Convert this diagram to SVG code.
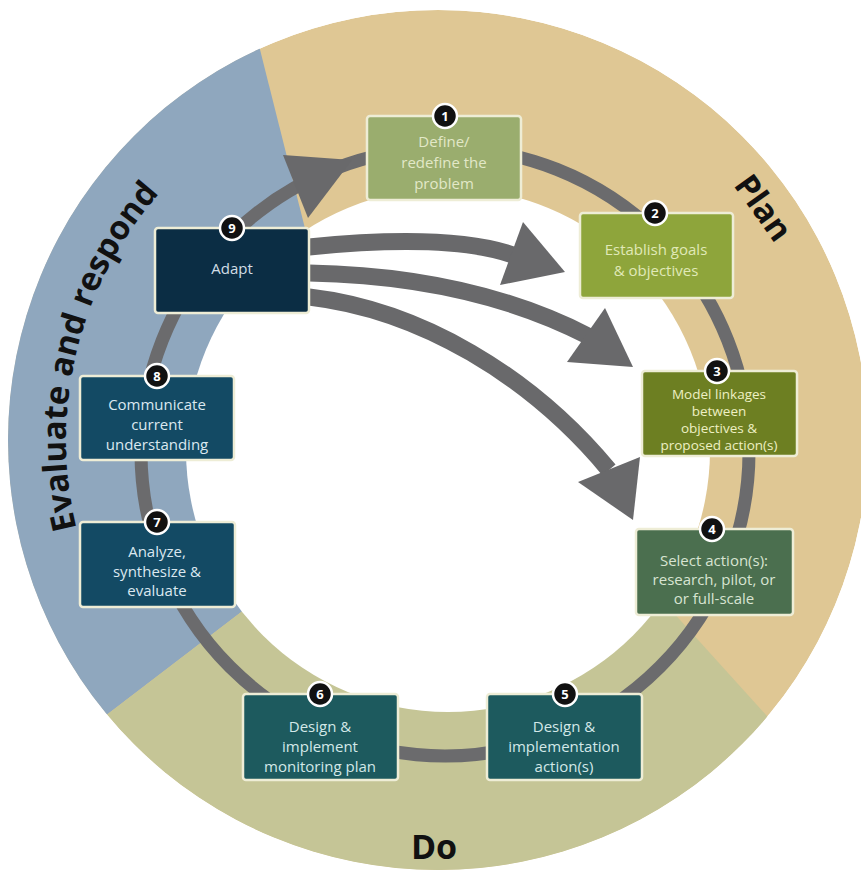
<svg xmlns="http://www.w3.org/2000/svg" width="861" height="870" viewBox="0 0 861 870">
<style>
.box{stroke:#eeedd6;stroke-width:2.5}
.t{font-family:"Open Sans","Liberation Sans",sans-serif;font-size:15px;text-anchor:middle}
.t3{font-size:13.5px}
.badge circle{fill:#111;stroke:#fff;stroke-width:2.5}
.badge text{font-family:"Open Sans","Liberation Sans",sans-serif;font-size:13px;font-weight:bold;fill:#fff;text-anchor:middle}
.big{font-family:"Open Sans","Liberation Sans",sans-serif;font-weight:bold;fill:#111}
.ev{font-size:33px}
.shaft{fill:none;stroke:#69696b;stroke-width:17}
.head{fill:#69696b}
</style>
<defs>
<clipPath id="outer"><circle cx="438" cy="440" r="430"/></clipPath>
<path id="arcEval" d="M78.7,536.3 A372,372 0 0 1 310.8,90.4"/>
</defs>
<rect width="861" height="870" fill="#fff"/>
<g id="ring" clip-path="url(#outer)">
<circle cx="438" cy="440" r="430" fill="#dfc794"/>
<polygon points="245,-10 323,300 300,567 -10,804 -10,-10" fill="#8fa7be"/>
<polygon points="300,567 -10,804 -10,880 880,880 880,841 596,527" fill="#c5c596"/>
</g>
<circle id="inner" cx="448" cy="450" r="262" fill="#fff"/>
<g id="labels">
<text class="big ev"><textPath href="#arcEval" startOffset="8">Evaluate</textPath></text>
<text class="big ev"><textPath href="#arcEval" startOffset="160">and</textPath></text>
<text class="big ev"><textPath href="#arcEval" startOffset="232">respond</textPath></text>
<text class="big" font-size="33" text-anchor="middle" transform="translate(763,208) rotate(54.5)" dy="11">Plan</text>
<text class="big" font-size="34" text-anchor="middle" x="434" y="859">Do</text>
</g>
<g id="connectors">
<circle cx="445" cy="452" r="304" fill="none" stroke="#6b6b6d" stroke-width="13"/>
<polygon class="head" points="283,155 352,160 308,218"/>
<path class="shaft" d="M309,247 Q449,233 513,255"/>
<polygon class="head" points="523,222 565,272 500,285"/>
<path class="shaft" d="M309,273 Q471,276 588,336"/>
<polygon class="head" points="605,308 633,367 567,362"/>
<path class="shaft" d="M309,297 C420,310 530,375 609,470"/>
<polygon class="head" points="640,457 633,520 578,482"/>
</g>
<g id="n1">
<rect class="box" x="367" y="116" width="154" height="84" rx="3" fill="#9aad6e"/>
<text class="t" fill="#e2e8c8"><tspan x="444" y="147">Define/</tspan><tspan x="444" y="168">redefine the</tspan><tspan x="444" y="189">problem</tspan></text>
<g class="badge"><circle cx="445" cy="116" r="12"/><text x="445" y="121">1</text></g>
</g>
<g id="n2">
<rect class="box" x="580" y="213" width="153" height="85" rx="3" fill="#8ea53b"/>
<text class="t" fill="#e0e9b8"><tspan x="656" y="255">Establish goals</tspan><tspan x="656" y="276">&amp; objectives</tspan></text>
<g class="badge"><circle cx="655" cy="213" r="12"/><text x="655" y="218">2</text></g>
</g>
<g id="n3">
<rect class="box" x="642" y="371" width="155" height="85" rx="3" fill="#6d7f22"/>
<text class="t t3" fill="#eef0c4"><tspan x="719" y="399">Model linkages</tspan><tspan x="719" y="416">between</tspan><tspan x="719" y="433">objectives &amp;</tspan><tspan x="719" y="450">proposed action(s)</tspan></text>
<g class="badge"><circle cx="717" cy="371" r="12"/><text x="717" y="376">3</text></g>
</g>
<g id="n4">
<rect class="box" x="636" y="529" width="157" height="86" rx="3" fill="#4b6f4f"/>
<text class="t" fill="#d8e4d2"><tspan x="714" y="566">Select action(s):</tspan><tspan x="714" y="585">research, pilot, or</tspan><tspan x="714" y="604">or full-scale</tspan></text>
<g class="badge"><circle cx="712" cy="529" r="12"/><text x="712" y="534">4</text></g>
</g>
<g id="n5">
<rect class="box" x="487" y="694" width="155" height="86" rx="3" fill="#1d5a5e"/>
<text class="t" fill="#d3e8e8"><tspan x="564" y="732">Design &amp;</tspan><tspan x="564" y="752">implementation</tspan><tspan x="564" y="772">action(s)</tspan></text>
<g class="badge"><circle cx="565" cy="694" r="12"/><text x="565" y="699">5</text></g>
</g>
<g id="n6">
<rect class="box" x="243" y="694" width="155" height="86" rx="3" fill="#1d5a5e"/>
<text class="t" fill="#d3e8e8"><tspan x="320" y="732">Design &amp;</tspan><tspan x="320" y="752">implement</tspan><tspan x="320" y="772">monitoring plan</tspan></text>
<g class="badge"><circle cx="320" cy="694" r="12"/><text x="320" y="699">6</text></g>
</g>
<g id="n7">
<rect class="box" x="80" y="522" width="155" height="85" rx="3" fill="#134a64"/>
<text class="t" fill="#dbe8f0"><tspan x="157" y="557">Analyze,</tspan><tspan x="157" y="577">synthesize &amp;</tspan><tspan x="157" y="596">evaluate</tspan></text>
<g class="badge"><circle cx="157" cy="522" r="12"/><text x="157" y="527">7</text></g>
</g>
<g id="n8">
<rect class="box" x="80" y="376" width="154" height="84" rx="3" fill="#134a64"/>
<text class="t" fill="#dbe8f0"><tspan x="157" y="410">Communicate</tspan><tspan x="157" y="430">current</tspan><tspan x="157" y="450">understanding</tspan></text>
<g class="badge"><circle cx="157" cy="376" r="12"/><text x="157" y="381">8</text></g>
</g>
<g id="n9">
<rect class="box" x="155" y="228" width="154" height="85" rx="3" fill="#0b2d44"/>
<text class="t" fill="#d2dde6"><tspan x="232" y="274">Adapt</tspan></text>
<g class="badge"><circle cx="232" cy="228" r="12"/><text x="232" y="233">9</text></g>
</g>
</svg>
